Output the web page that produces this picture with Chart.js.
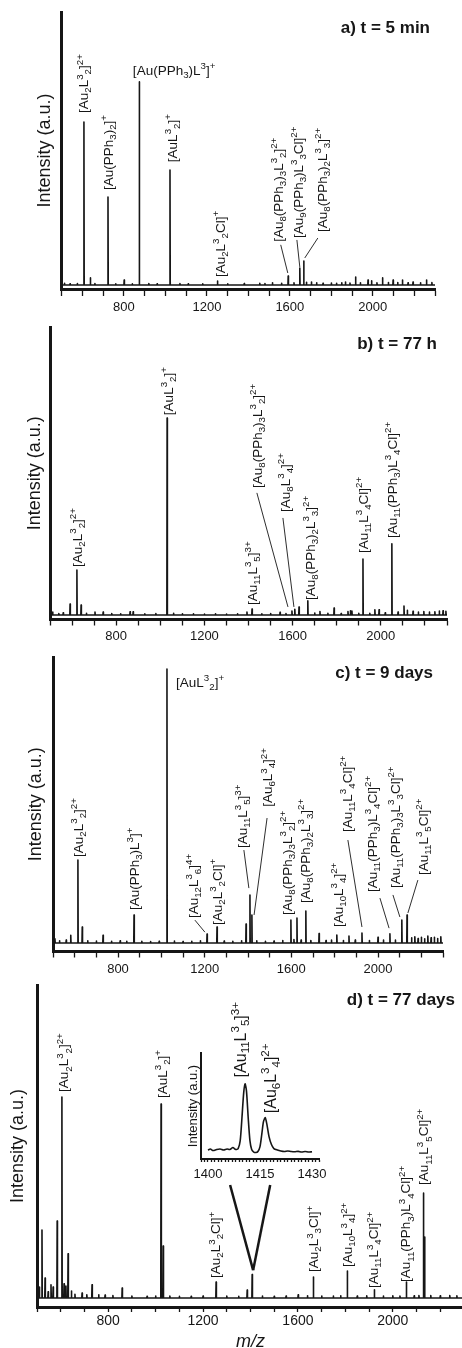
<!DOCTYPE html>
<html>
<head>
<meta charset="utf-8">
<script src="https://cdn.jsdelivr.net/npm/chart.js@4.4.0/dist/chart.umd.min.js"></script>
<style>
  html, body { margin: 0; padding: 0; background: #fff; }
  #page { position: relative; width: 462px; height: 1348px; overflow: hidden; background: #fff; }
  #page canvas { position: absolute; left: 0; top: 0; }
</style>
</head>
<body>
<div id="page">
  <canvas id="chartA" width="470" height="1400"></canvas>
  <canvas id="chartB" width="470" height="1400"></canvas>
  <canvas id="chartC" width="470" height="1400"></canvas>
  <canvas id="chartD" width="470" height="1400"></canvas>
  <canvas id="chartInset" width="470" height="1400"></canvas>
</div>
<script>
// a) t = 5 min : peak m/z and intensity (a.u., 100 = top of axis)
const aMz = [513, 540, 575, 607, 638, 660, 723, 760, 801, 840, 874, 920, 960, 1022, 1070, 1110, 1180, 1251, 1300, 1380,
  1455, 1480, 1516, 1560, 1592, 1620, 1648, 1667, 1680, 1704, 1729, 1760, 1800, 1825, 1850, 1868, 1890, 1917, 1940, 1977,
  1994, 2020, 2047, 2075, 2098, 2120, 2143, 2170, 2194, 2230, 2259, 2285];
const aInt = [0.6, 0.4, 0.5, 59.7, 2.6, 0.5, 32.2, 0.4, 1.8, 0.4, 74.4, 0.5, 0.4, 42.1, 0.5, 0.4, 0.4, 1.4, 0.4, 0.5,
  0.6, 0.5, 0.8, 0.6, 3.3, 0.8, 6.2, 8.8, 1.0, 1.1, 0.8, 0.6, 0.7, 0.6, 0.8, 1.1, 0.7, 2.9, 0.8, 1.8,
  1.5, 0.8, 2.6, 0.9, 1.8, 0.9, 1.8, 0.8, 1.1, 0.8, 1.8, 0.9];

// b) t = 77 h
const bMz = [512, 540, 560, 591, 622, 641, 665, 704, 741, 780, 820, 863, 877, 930, 980, 1031, 1060, 1100, 1150, 1200,
  1250, 1300, 1350, 1393, 1416, 1460, 1500, 1543, 1570, 1597, 1610, 1629, 1669, 1700, 1724, 1760, 1788, 1820, 1851, 1862,
  1869, 1900, 1919, 1950, 1973, 1992, 2020, 2050, 2078, 2105, 2120, 2146, 2170, 2195, 2220, 2245, 2265, 2282, 2295];
const bInt = [1.0, 0.5, 0.8, 3.8, 15.6, 3.5, 0.6, 1.0, 1.0, 0.5, 0.4, 1.1, 1.1, 0.4, 0.5, 68.4, 0.6, 0.4, 0.4, 0.3,
  0.4, 0.3, 0.4, 1.0, 2.1, 0.4, 0.5, 0.9, 0.5, 1.4, 2.0, 2.8, 4.9, 0.7, 1.2, 0.6, 2.4, 0.5, 1.2, 1.5,
  1.4, 0.6, 19.4, 0.6, 1.8, 1.8, 0.8, 24.7, 1.0, 3.1, 1.6, 1.3, 1.0, 1.2, 1.0, 1.1, 1.4, 1.5, 1.3];

// c) t = 9 days
const cMz = [509, 530, 561, 582, 615, 635, 660, 700, 731, 770, 810, 840, 874, 910, 950, 990, 1026, 1060, 1100, 1140,
  1180, 1211, 1257, 1290, 1330, 1370, 1391, 1409, 1418, 1440, 1480, 1520, 1560, 1598, 1612, 1626, 1645, 1667, 1690, 1728,
  1760, 1785, 1810, 1840, 1866, 1895, 1926, 1960, 2000, 2025, 2055, 2080, 2110, 2134, 2155, 2170, 2185, 2200, 2215, 2230,
  2245, 2260, 2275, 2290];
const cInt = [1.5, 0.8, 1.0, 2.7, 29.0, 5.6, 0.8, 0.7, 2.7, 0.6, 0.8, 0.6, 9.8, 0.6, 0.5, 0.6, 95.8, 0.7, 0.5, 0.6,
  0.8, 3.1, 5.6, 0.7, 0.6, 0.8, 6.6, 16.8, 9.8, 0.8, 0.6, 0.7, 0.9, 8.0, 1.2, 8.7, 1.0, 11.2, 0.9, 3.3,
  0.9, 1.0, 2.8, 0.9, 2.4, 1.0, 3.5, 0.9, 2.0, 1.0, 3.2, 1.0, 8.0, 9.8, 1.8, 2.2, 1.6, 2.0, 1.5, 2.4,
  1.8, 2.0, 1.6, 2.2];

// d) t = 77 days
const dMz = [510, 521, 534, 547, 559, 568, 585, 605, 614, 622, 631, 645, 660, 690, 710, 732, 760, 787, 820, 859,
  900, 964, 1000, 1023, 1032, 1060, 1100, 1150, 1200, 1255, 1300, 1350, 1386, 1407, 1450, 1500, 1550, 1601, 1640, 1665,
  1700, 1749, 1780, 1808, 1850, 1890, 1922, 1960, 2000, 2030, 2057, 2090, 2110, 2129, 2134, 2160, 2200, 2240, 2270, 2298];
const dInt = [3.5, 21.7, 6.4, 2.0, 4.2, 3.5, 24.6, 64.2, 4.5, 3.8, 14.1, 2.2, 1.2, 1.6, 1.0, 4.2, 1.0, 0.9, 0.8, 3.2,
  0.6, 0.5, 0.6, 62.0, 16.6, 0.6, 0.5, 0.5, 0.6, 5.1, 0.6, 0.5, 2.5, 7.5, 0.6, 0.5, 0.6, 1.0, 0.7, 6.7,
  0.6, 0.6, 0.7, 8.6, 0.6, 0.7, 2.6, 0.6, 0.7, 0.6, 5.1, 0.7, 0.8, 33.5, 19.5, 0.8, 0.7, 0.8, 0.7, 2.0];

// inset of d), profile around m/z 1410
const insetMz = [1400, 1400.7, 1401.5, 1402.5, 1403.5, 1404.5, 1405.5, 1406.3, 1407.2, 1408,
  1408.7, 1409.3, 1409.8, 1410.3, 1410.7, 1411.1, 1411.6, 1412.1, 1412.6, 1413.2,
  1413.8, 1414.4, 1415, 1415.5, 1416, 1416.5, 1417, 1417.6, 1418.3, 1419,
  1420, 1421, 1422, 1423, 1424, 1425, 1426, 1427, 1428, 1429, 1430];
const insetInt = [2.5, 3.5, 2, 3, 3.5, 2.5, 3.5, 3, 5, 3,
  4, 12, 35, 60, 69, 62, 35, 12, 3, 0.5,
  0, 1, 6, 18, 31, 35, 28, 16, 8, 4,
  2.5, 1.5, 1, 1.5, 1, 0.8, 1.2, 0.5, 1, 0.5, 0.8];

const mzTickLabels = [800, 1200, 1600, 2000];
const insetTickLabels = [1400, 1415, 1430];

// peak labels, placed in data units of each panel (x = m/z, y = intensity)
const aNotes = [
  { text: '[Au_2L^3_2]^{2+}', x: 603, y: 63.0 },
  { text: '[Au(PPh_3)_2]^+', x: 723, y: 34.8 },
  { text: '[Au(PPh_3)L^3]^+', x: 843, y: 78.8, flat: true },
  { text: '[AuL^3_2]^+', x: 1031, y: 45 },
  { text: '[Au_2L^3_2Cl]^+', x: 1262, y: 2.9 },
  { text: '[Au_8(PPh_3)_3L^3_2]^{2+}', x: 1542, y: 15.8, line: [1556, 14.7, 1590, 4.4] },
  { text: '[Au_9(PPh_3)L^3_3Cl]^{2+}', x: 1639, y: 17.2, line: [1634, 16.5, 1648, 6.6] },
  { text: '[Au_8(PPh_3)_2L^3_3]^{2+}', x: 1754, y: 19.4, line: [1735, 17.2, 1672, 9.9] }
];
const bNotes = [
  { text: '[Au_2L^3_2]^{2+}', x: 622, y: 16.7 },
  { text: '[AuL^3_2]^+', x: 1035, y: 69.4 },
  { text: '[Au_{11}L^3_5]^{3+}', x: 1416, y: 3.5 },
  { text: '[Au_8(PPh_3)_3L^3_2]^{2+}', x: 1438, y: 44.1, line: [1438, 42.4, 1579, 2.8] },
  { text: '[Au_8L^3_4]^{2+}', x: 1565, y: 35.8, line: [1556, 33.7, 1606, 2.8] },
  { text: '[Au_8(PPh_3)_2L^3_3]^{2+}', x: 1679, y: 5.2 },
  { text: '[Au_{11}L^3_4Cl]^{2+}', x: 1919, y: 21.5 },
  { text: '[Au_{11}(PPh_3)L^3_4Cl]^{2+}', x: 2050, y: 26.7 }
];
const cNotes = [
  { text: '[AuL^3_2]^+', x: 1068, y: 91.3, flat: true },
  { text: '[Au_2L^3_2]^{2+}', x: 615, y: 30.1 },
  { text: '[Au(PPh_3)L^3]^+', x: 874, y: 11.5 },
  { text: '[Au_{12}L^3_6]^{4+}', x: 1146, y: 8.7, line: [1155, 8.0, 1201, 3.8] },
  { text: '[Au_2L^3_2Cl]^+', x: 1257, y: 6.3 },
  { text: '[Au_{11}L^3_5]^{3+}', x: 1372, y: 33.2, line: [1381, 32.5, 1404, 19.2] },
  { text: '[Au_6L^3_4]^{2+}', x: 1488, y: 47.6, line: [1488, 43.7, 1428, 9.8] },
  { text: '[Au_8(PPh_3)_3L^3_2]^{2+}', x: 1580, y: 9.8 },
  { text: '[Au_8(PPh_3)_2L^3_3]^{2+}', x: 1663, y: 14.0 },
  { text: '[Au_{10}L^3_4]^{2+}', x: 1815, y: 5.6 },
  { text: '[Au_{11}L^3_4Cl]^{2+}', x: 1857, y: 38.8, line: [1861, 36.0, 1926, 5.6] },
  { text: '[Au_{11}(PPh_3)L^3_4Cl]^{2+}', x: 1972, y: 17.8, line: [2009, 15.7, 2051, 5.2] },
  { text: '[Au_{11}(PPh_3)_3L^3_3Cl]^{2+}', x: 2078, y: 19.2, line: [2069, 16.8, 2101, 9.1] },
  { text: '[Au_{11}L^3_5Cl]^{2+}', x: 2207, y: 23.8, line: [2184, 22.0, 2138, 10.5] }
];
const dNotes = [
  { text: '[Au_2L^3_2]^{2+}', x: 612, y: 65.8 },
  { text: '[AuL^3_2]^+', x: 1027, y: 63.9 },
  { text: '[Au_2L^3_2Cl]^+', x: 1251, y: 6.4 },
  { text: '[Au_2L^3_3Cl]^+', x: 1665, y: 8.3 },
  { text: '[Au_{10}L^3_4]^{2+}', x: 1808, y: 9.9 },
  { text: '[Au_{11}L^3_4Cl]^{2+}', x: 1918, y: 3.2 },
  { text: '[Au_{11}(PPh_3)L^3_4Cl]^{2+}', x: 2053, y: 5.1 },
  { text: '[Au_{11}L^3_5Cl]^{2+}', x: 2129, y: 36.1 },
  // zoom wedge from the inset down to the peak
  { line: [1314, 36.1, 1411, 8.9], w: 2.5 },
  { line: [1483, 36.1, 1411, 8.9], w: 2.5 }
];
const insetNotes = [
  { text: '[Au_{11}L^3_5]^{3+}', x: 1409.2, y: 75.5, size: 16 },
  { text: '[Au_6L^3_4]^{2+}', x: 1417.9, y: 39.5, size: 16 }
];

const FONT = "Arial, 'Liberation Sans', Helvetica, sans-serif";
const INK = '#161616';
const STICK = 1.2; // half width of a centroided peak, m/z

// turn a peak list into a stick spectrum
function spectrum(mz, inten, lo, hi) {
  const order = mz.map((m, i) => i).sort((p, q) => mz[p] - mz[q]);
  const pts = [{ x: lo, y: 0 }];
  order.forEach(i => {
    pts.push({ x: mz[i] - STICK, y: 0 }, { x: mz[i], y: inten[i] }, { x: mz[i] + STICK, y: 0 });
  });
  pts.push({ x: hi, y: 0 });
  return pts;
}

// "_x" or "_{xy}" = subscript, "^x" or "^{xy}" = superscript
function parseRich(s) {
  const out = [];
  let i = 0;
  while (i < s.length) {
    const c = s[i];
    if (c === '_' || c === '^') {
      let t;
      if (s[i + 1] === '{') {
        const j = s.indexOf('}', i);
        t = s.slice(i + 2, j);
        i = j + 1;
      } else {
        t = s[i + 1];
        i += 2;
      }
      out.push({ t, mode: c === '_' ? 1 : 2 });
    } else {
      let j = i;
      while (j < s.length && s[j] !== '_' && s[j] !== '^') j++;
      out.push({ t: s.slice(i, j), mode: 0 });
      i = j;
    }
  }
  return out;
}

function drawRich(ctx, s, x, y, size, rotated) {
  const small = size * 0.72;
  const parts = parseRich(s);
  ctx.save();
  ctx.translate(x, y);
  if (rotated) ctx.rotate(-Math.PI / 2);
  ctx.fillStyle = INK;
  ctx.textAlign = 'left';
  ctx.textBaseline = 'alphabetic';
  const base = 0.36 * size;
  let cx = 0;
  parts.forEach(p => {
    ctx.font = (p.mode ? small : size) + 'px ' + FONT;
    const dy = p.mode === 1 ? 0.24 * size : p.mode === 2 ? -0.4 * size : 0;
    ctx.fillText(p.t, cx, base + dy);
    cx += ctx.measureText(p.t).width;
  });
  ctx.restore();
}

function notesPlugin(notes, title) {
  return {
    id: 'peakNotes',
    afterDatasetsDraw(chart) {
      const ctx = chart.ctx;
      const xs = chart.scales.x, ys = chart.scales.y;
      notes.forEach(n => {
        if (n.line) {
          ctx.save();
          ctx.strokeStyle = INK;
          ctx.lineWidth = n.w || 0.9;
          ctx.beginPath();
          ctx.moveTo(xs.getPixelForValue(n.line[0]), ys.getPixelForValue(n.line[1]));
          ctx.lineTo(xs.getPixelForValue(n.line[2]), ys.getPixelForValue(n.line[3]));
          ctx.stroke();
          ctx.restore();
        }
        if (n.text) {
          drawRich(ctx, n.text, xs.getPixelForValue(n.x), ys.getPixelForValue(n.y), n.size || 13.5, !n.flat);
        }
      });
      if (title) {
        ctx.save();
        ctx.fillStyle = INK;
        ctx.font = 'bold 17px ' + FONT;
        ctx.textAlign = 'right';
        ctx.textBaseline = 'middle';
        ctx.fillText(title.text, title.x, title.y);
        ctx.restore();
      }
    }
  };
}

function buildPanel(id, data, box, notes, title) {
  const pad = { left: box.left - 30, top: box.top, right: 470 - box.right, bottom: 0 };
  const cfg = {
    type: 'line',
    data: {
      datasets: [{
        data: data,
        borderColor: INK,
        borderWidth: box.lineW,
        borderJoinStyle: 'round',
        pointRadius: 0,
        tension: box.tension || 0,
        fill: false
      }]
    },
    options: {
      responsive: false,
      animation: false,
      events: [],
      layout: { padding: pad },
      plugins: { legend: { display: false }, tooltip: { enabled: false } },
      scales: {
        x: {
          type: 'linear',
          min: box.xMin,
          max: box.xMax,
          border: { display: true, color: INK, width: box.axisW },
          grid: { display: true, drawOnChartArea: false, drawTicks: true, tickLength: box.tickLen, tickWidth: 1.3, color: INK },
          ticks: {
            stepSize: box.step,
            autoSkip: false,
            maxRotation: 0,
            padding: box.tickPad,
            color: INK,
            font: { family: FONT, size: box.tickFont },
            callback: v => (box.labelled.includes(v) ? String(v) : '')
          },
          title: box.xTitle
            ? { display: true, text: box.xTitle, color: INK, font: { family: FONT, size: 18, style: 'italic' }, padding: { top: 0, bottom: 0 } }
            : { display: false }
        },
        y: {
          min: box.yMin,
          max: box.yMax,
          border: { display: true, color: INK, width: box.axisW },
          grid: { display: true, drawOnChartArea: false, drawTicks: false },
          ticks: { display: false },
          title: {
            display: true,
            text: 'Intensity (a.u.)',
            color: INK,
            font: { family: FONT, size: box.yTitleSize },
            padding: { top: 0, bottom: Math.max(0, box.yTitleGap - box.yTitleSize * 0.6) }
          }
        }
      }
    },
    plugins: [notesPlugin(notes, title)]
  };
  const chart = new Chart(document.getElementById(id), cfg);
  // line the plot area up with the reference frame
  pad.left += box.left - chart.chartArea.left;
  pad.bottom += chart.chartArea.bottom - box.bottom;
  chart.update();
  return chart;
}

const mainAxis = { xMin: 500, xMax: 2300, step: 100, labelled: mzTickLabels, yMax: 100, axisW: 3, lineW: 1.6, yTitleSize: 18 };

buildPanel('chartA', spectrum(aMz, aInt, 500, 2300),
  Object.assign({}, mainAxis, { top: 12, bottom: 289, left: 61.75, right: 435, yMin: -1.47, tickLen: 7, tickPad: 4, tickFont: 13, yTitleGap: 16.75 }),
  aNotes, { text: 'a) t = 5 min', x: 430, y: 28 });

buildPanel('chartB', spectrum(bMz, bInt, 500, 2300),
  Object.assign({}, mainAxis, { top: 327, bottom: 619.5, left: 50, right: 447, yMin: -1.56, tickLen: 6, tickPad: 3, tickFont: 13, yTitleGap: 15 }),
  bNotes, { text: 'b) t = 77 h', x: 437, y: 344 });

buildPanel('chartC', spectrum(cMz, cInt, 500, 2300),
  Object.assign({}, mainAxis, { top: 657, bottom: 951.5, left: 53, right: 443, yMin: -2.97, tickLen: 6, tickPad: 4, tickFont: 13, yTitleGap: 17 }),
  cNotes, { text: 'c) t = 9 days', x: 433, y: 673 });

buildPanel('chartD', spectrum(dMz, dInt, 500, 2300),
  Object.assign({}, mainAxis, { top: 985, bottom: 1307, left: 37, right: 464, yMin: -2.88, tickLen: 5, tickPad: 1, tickFont: 14, yTitleGap: 19, xTitle: 'm/z' }),
  dNotes, { text: 'd) t = 77 days', x: 455, y: 1000 });

buildPanel('chartInset', insetMz.map((m, i) => ({ x: m, y: insetInt[i] })),
  { xMin: 1398, xMax: 1432, step: 1, labelled: insetTickLabels, yMin: -6.5, yMax: 100, axisW: 2, lineW: 1.6, tension: 0.25,
    top: 1053, bottom: 1159, left: 201, right: 319, tickLen: 3, tickPad: 5, tickFont: 13, yTitleSize: 13, yTitleGap: 8 },
  insetNotes, null);
</script>
</body>
</html>
